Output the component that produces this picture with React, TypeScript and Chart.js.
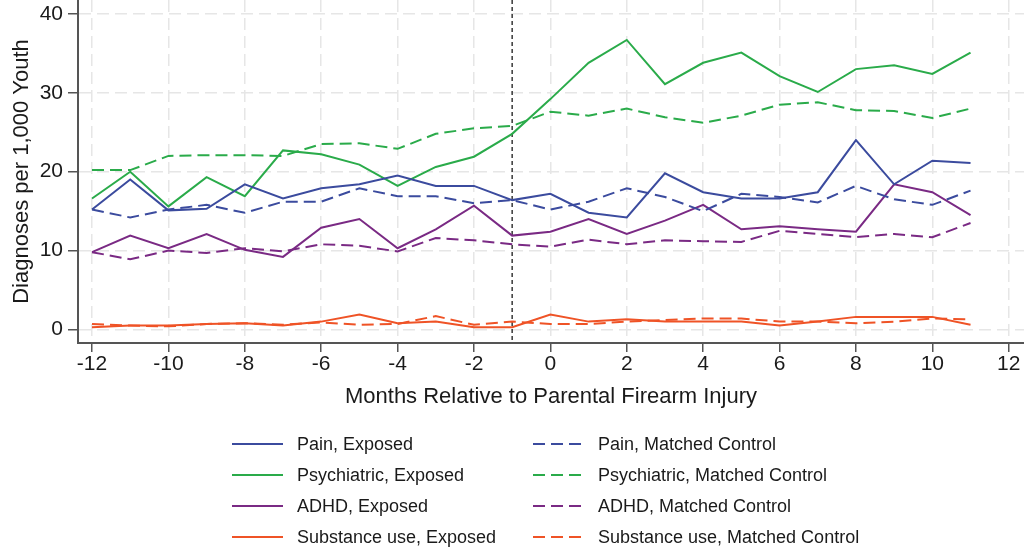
import { useEffect, useRef } from "react";
import { Chart, registerables } from "chart.js";

Chart.register(...registerables);

const FONT = "'Liberation Sans', Arial, Helvetica, sans-serif";

const months = [-12, -11, -10, -9, -8, -7, -6, -5, -4, -3, -2, -1, 0, 1, 2, 3, 4, 5, 6, 7, 8, 9, 10, 11];
const xTickValues = [-12, -10, -8, -6, -4, -2, 0, 2, 4, 6, 8, 10, 12];
const yTickValues = [0, 10, 20, 30, 40];
const eventMonth = -1;

const painExposed = [15.2, 19.0, 15.1, 15.3, 18.4, 16.6, 17.9, 18.4, 19.5, 18.2, 18.2, 16.4, 17.2, 14.8, 14.2, 19.8, 17.4, 16.6, 16.6, 17.4, 24.0, 18.4, 21.4, 21.1];
const painControl = [15.2, 14.2, 15.2, 15.8, 14.8, 16.2, 16.2, 17.9, 16.9, 16.9, 16.0, 16.4, 15.2, 16.2, 17.9, 16.8, 15.0, 17.2, 16.8, 16.1, 18.2, 16.5, 15.8, 17.6];
const psychExposed = [16.6, 20.0, 15.6, 19.3, 16.9, 22.7, 22.2, 20.9, 18.2, 20.6, 21.9, 24.8, 29.2, 33.8, 36.7, 31.1, 33.8, 35.1, 32.1, 30.1, 33.0, 33.5, 32.4, 35.1];
const psychControl = [20.2, 20.2, 22.0, 22.1, 22.1, 22.0, 23.5, 23.6, 22.9, 24.8, 25.5, 25.8, 27.6, 27.1, 28.0, 26.9, 26.2, 27.1, 28.5, 28.8, 27.8, 27.7, 26.8, 28.0];
const adhdExposed = [9.8, 11.9, 10.3, 12.1, 10.1, 9.2, 12.9, 14.0, 10.3, 12.7, 15.7, 11.9, 12.4, 14.0, 12.1, 13.8, 15.8, 12.7, 13.1, 12.7, 12.4, 18.4, 17.4, 14.5];
const adhdControl = [9.8, 8.9, 10.0, 9.7, 10.3, 9.9, 10.8, 10.6, 9.9, 11.6, 11.3, 10.8, 10.5, 11.4, 10.8, 11.3, 11.2, 11.1, 12.5, 12.1, 11.7, 12.1, 11.7, 13.5];
const substanceExposed = [0.3, 0.5, 0.5, 0.7, 0.8, 0.5, 1.0, 1.9, 0.8, 1.0, 0.3, 0.3, 1.9, 1.0, 1.3, 1.0, 1.0, 1.0, 0.5, 1.0, 1.6, 1.6, 1.6, 0.6];
const substanceControl = [0.7, 0.5, 0.4, 0.7, 0.8, 0.6, 0.9, 0.6, 0.7, 1.7, 0.6, 1.0, 0.7, 0.7, 1.0, 1.2, 1.4, 1.4, 1.0, 1.0, 0.8, 1.0, 1.4, 1.3];

const seriesLabels = [
  "Pain, Exposed",
  "Pain, Matched Control",
  "Psychiatric, Exposed",
  "Psychiatric, Matched Control",
  "ADHD, Exposed",
  "ADHD, Matched Control",
  "Substance use, Exposed",
  "Substance use, Matched Control",
];
const seriesValues = [painExposed, painControl, psychExposed, psychControl, adhdExposed, adhdControl, substanceExposed, substanceControl];
const seriesColors = ["#3b4b9e", "#3b4b9e", "#2aab4a", "#2aab4a", "#7a2a84", "#7a2a84", "#ef5326", "#ef5326"];

const DASH = [12, 6];

const eventLinePlugin = {
  id: "eventLine",
  beforeDatasetsDraw(chart: any) {
    const { ctx, chartArea, scales } = chart;
    const x = scales.x.getPixelForValue(eventMonth);
    ctx.save();
    ctx.strokeStyle = "#444";
    ctx.lineWidth = 1.6;
    ctx.setLineDash([4, 3]);
    ctx.beginPath();
    ctx.moveTo(x, chartArea.top);
    ctx.lineTo(x, chartArea.bottom);
    ctx.stroke();
    ctx.restore();
  },
};

const legendPlugin = {
  id: "twoColLegend",
  afterDraw(chart: any) {
    const { ctx } = chart;
    const colLine = [232, 533];
    const colText = [297, 598];
    const rowY = [444, 475, 506, 537];
    ctx.save();
    chart.data.datasets.forEach((ds: any, i: number) => {
      const col = i % 2;
      const row = Math.floor(i / 2);
      const y = rowY[row];
      ctx.strokeStyle = ds.borderColor;
      ctx.lineWidth = 2;
      ctx.setLineDash(ds.borderDash || []);
      ctx.beginPath();
      ctx.moveTo(colLine[col], y);
      ctx.lineTo(colLine[col] + 51, y);
      ctx.stroke();
      ctx.setLineDash([]);
      ctx.fillStyle = "#1a1a1a";
      ctx.font = `18px ${FONT}`;
      ctx.textBaseline = "middle";
      ctx.textAlign = "left";
      ctx.fillText(ds.label, colText[col], y + 1);
    });
    ctx.restore();
  },
};

export default function App() {
  const ref = useRef<HTMLCanvasElement | null>(null);

  useEffect(() => {
    document.body.style.margin = "0";
    const canvas = ref.current;
    if (!canvas) return;
    const datasets = seriesLabels.map((label, i) => ({
      label,
      data: months.map((m, j) => ({ x: m, y: seriesValues[i][j] })),
      borderColor: seriesColors[i],
      backgroundColor: seriesColors[i],
      borderWidth: 2,
      borderDash: i % 2 === 1 ? DASH : [],
      pointRadius: 0,
      tension: 0,
      fill: false,
    }));
    const chart = new Chart(canvas, {
      type: "line",
      data: { datasets },
      plugins: [eventLinePlugin, legendPlugin],
      options: {
        animation: false,
        responsive: false,
        devicePixelRatio: 1,
        layout: { padding: { left: 0, right: 0, top: 0, bottom: 138 } },
        plugins: {
          legend: { display: false },
          tooltip: { enabled: false },
        },
        scales: {
          x: {
            type: "linear",
            min: -12.367,
            max: 12.4,
            afterBuildTicks: (axis: any) => {
              axis.ticks = xTickValues.map((v) => ({ value: v }));
            },
            afterFit: (axis: any) => {
              axis.height = 67;
              axis.paddingLeft = 0;
              axis.paddingRight = 0;
            },
            ticks: {
              color: "#1a1a1a",
              font: { family: FONT, size: 21 },
              padding: 0,
              maxRotation: 0,
              autoSkip: false,
            },
            grid: {
              color: "#e6e6e6",
              lineWidth: 1.5,
              tickColor: "#555",
              tickLength: 9,
              tickBorderDash: [],
              tickWidth: 1.5,
            },
            border: { color: "#555", width: 2, dash: [12, 6] },
            title: {
              display: true,
              text: "Months Relative to Parental Firearm Injury",
              color: "#1a1a1a",
              font: { family: FONT, size: 22 },
              padding: { top: 7, bottom: 0 },
            },
          },
          y: {
            type: "linear",
            min: -1.71,
            max: 41.76,
            afterBuildTicks: (axis: any) => {
              axis.ticks = yTickValues.map((v) => ({ value: v }));
            },
            afterFit: (axis: any) => {
              axis.width = 78;
              axis.paddingTop = 0;
              axis.paddingBottom = 0;
            },
            ticks: {
              color: "#1a1a1a",
              font: { family: FONT, size: 21 },
              padding: 5,
            },
            grid: {
              color: "#e6e6e6",
              lineWidth: 1.5,
              tickColor: "#555",
              tickLength: 10,
              tickBorderDash: [],
              tickWidth: 1.5,
            },
            border: { color: "#555", width: 2, dash: [12, 6] },
            title: {
              display: true,
              text: "Diagnoses per 1,000 Youth",
              color: "#1a1a1a",
              font: { family: FONT, size: 22 },
              padding: { top: 9, bottom: 0 },
            },
          },
        },
      },
    });
    return () => chart.destroy();
  }, []);

  return (
    <div style={{ width: 1024, height: 548, background: "#fff" }}>
      <canvas ref={ref} width={1024} height={548} style={{ display: "block" }} />
    </div>
  );
}
